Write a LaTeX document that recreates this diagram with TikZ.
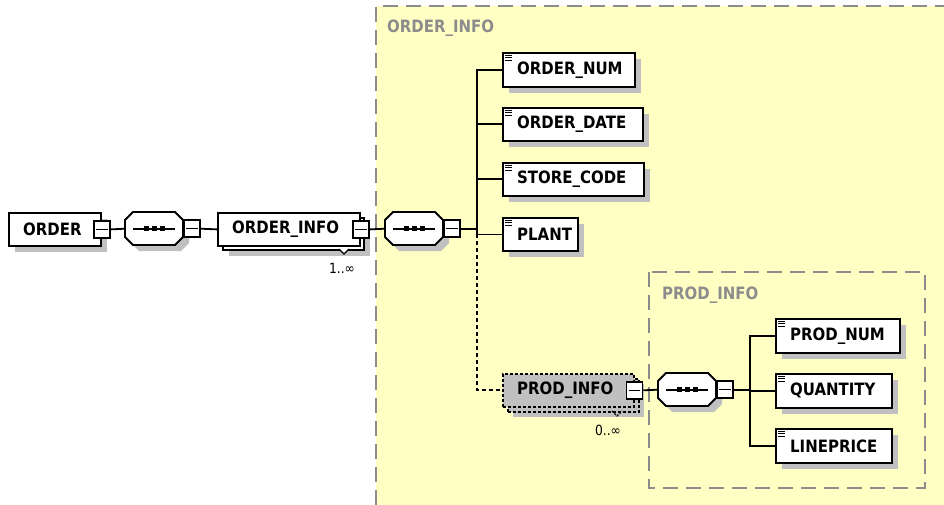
\documentclass[tikz,border=0pt]{standalone}
\usepackage{fontspec}
\setmainfont{DejaVu Sans}
\newfontfamily\lblfont[FakeStretch=0.88]{DejaVu Sans}
\usetikzlibrary{shadows}
\definecolor{bgyellow}{RGB}{255,255,196}
\definecolor{shgray}{RGB}{192,192,192}
\definecolor{dashgray}{RGB}{140,140,140}
\definecolor{elgray}{RGB}{192,192,192}
\newcommand\mkminus[1]{%
  \node[mbox] (#1-m) at (#1.east) {};
  \draw[line width=1.2pt] ([xshift=3pt]#1-m.west) -- ([xshift=-3pt]#1-m.east);}
\newcommand\mkleaf[6]{% name, x, y, w, h, text
  \node[elem, minimum width=#4pt, minimum height=#5pt] (#1) at (#2,#3) {};
  \node[etext] (#1-t) at ([xshift=15pt]#1.west) {#6};
  \foreach \dy in {3,5.5,8}{\draw[line width=0.9pt] ([xshift=3pt,yshift=-\dy pt]#1.north west) -- ++(7,0);}}
\newcommand\mkseq[3]{% name, x, y
  \begin{scope}[shift={(#2,#3)}]
    \fill[shgray] (14,6) -- (56,6) -- (64,14) -- (64,31) -- (56,39) -- (14,39) -- (6,31) -- (6,14) -- cycle;
    \filldraw[fill=white, line width=1.8pt] (8,0) -- (50,0) -- (58,8) -- (58,25) -- (50,33) -- (8,33) -- (0,25) -- (0,8) -- cycle;
  \end{scope}
  \node[inner sep=0pt, minimum width=58pt, minimum height=33pt, anchor=north west] (#1) at (#2,#3) {};
  \draw[line width=1.6pt] ([xshift=8pt]#1.west) -- ([xshift=-8pt]#1.east);
  \foreach \dx in {-8,0,8}{\fill ([xshift=\dx pt]#1.center) ++(-2.5,-2.5) rectangle ++(5,5);}
  \node[mbox, anchor=west] (#1-m) at (#1.east) {};
  \draw[line width=1.2pt] ([xshift=3pt]#1-m.west) -- ([xshift=-3pt]#1-m.east);}
\begin{document}
\begin{tikzpicture}[x=1pt,y=-1pt,
  elem/.style={draw=black, line width=1.8pt, fill=white, rectangle, inner sep=0pt, anchor=north west,
    general shadow={fill=shgray, shadow xshift=6pt, shadow yshift=-6pt}},
  elemplain/.style={draw=black, line width=1.8pt, fill=white, rectangle, inner sep=0pt, anchor=north west},
  pelem/.style={draw=black, line width=1.6pt, dash pattern=on 3pt off 2pt, fill=elgray, rectangle, inner sep=0pt, anchor=north west},
  etext/.style={font=\lblfont\bfseries\fontsize{17}{20}\selectfont, inner sep=0pt, anchor=west},
  mbox/.style={draw, fill=white, line width=1.6pt, minimum width=16pt, minimum height=17pt, inner sep=0pt, rectangle},
  conn/.style={line width=1.8pt},
  dotconn/.style={line width=1.8pt, dash pattern=on 4pt off 3pt},
  grouplabel/.style={font=\lblfont\bfseries\fontsize{17}{20}\selectfont, text=dashgray, anchor=west, inner sep=0pt},
  groupbox/.style={draw=dashgray, line width=1.6pt, dash pattern=on 15pt off 8pt},
  mult/.style={font=\lblfont\fontsize{14}{16}\selectfont, inner sep=0pt}]
\useasboundingbox (0,0) rectangle (944,505);
\fill[white] (0,0) rectangle (944,505);
% ORDER_INFO group area
\fill[bgyellow] (376,6) rectangle (944,505);
\draw[groupbox] (376,505) -- (376,6) -- (944,6);
\node[grouplabel] (g1lab) at (387,28) {ORDER\_INFO};
% PROD_INFO group area
\draw[groupbox] (649,272) rectangle (925,488);
\node[grouplabel] (g2lab) at (662,295) {PROD\_INFO};

% ORDER
\node[elem, minimum width=92pt, minimum height=33pt] (order) at (8,212) {};
\node[etext] (order-t) at ([xshift=15pt]order.west) {ORDER};
\mkminus{order}

% sequence 1
\mkseq{seqa}{125}{212}

% ORDER_INFO (repeated)
\node[elem, minimum width=141pt, minimum height=32pt] (oiback) at (222,217) {};
\node[elemplain, minimum width=142pt, minimum height=33pt] (oi) at (217,212) {};
\node[etext] (oi-t) at ([xshift=15pt]oi.west) {ORDER\_INFO};
\draw[line width=1.3pt, fill=white] (339,249) -- (344,254) -- (349,249);
\mkminus{oi}
\node[mult] (oimult) at (342,268) {1..∞};

% sequence 2
\mkseq{seqb}{385}{212}

% leaves of ORDER_INFO
\mkleaf{onum}{502}{52}{132}{34}{ORDER\_NUM}
\mkleaf{odate}{502}{107}{140}{33}{ORDER\_DATE}
\mkleaf{scode}{502}{162}{141}{33}{STORE\_CODE}
\mkleaf{plant}{502}{217}{75}{33}{PLANT}

% PROD_INFO element (optional, repeated)
\fill[shgray] (513,384) rectangle (644,417);
\node[pelem, minimum width=131pt, minimum height=33pt] (piback) at (507,378) {};
\node[pelem, minimum width=131pt, minimum height=33pt] (pi) at (502,373) {};
\node[etext] (pi-t) at ([xshift=15pt]pi.west) {PROD\_INFO};
\draw[line width=1.3pt, dash pattern=on 2pt off 1.5pt] (612,411) -- (617,416) -- (622,411);
\mkminus{pi}
\node[mult] (pimult) at (608,430) {0..∞};

% sequence 3
\mkseq{seqc}{658}{373}

% leaves of PROD_INFO
\mkleaf{pnum}{775}{318}{124}{34}{PROD\_NUM}
\mkleaf{qty}{775}{373}{116}{34}{QUANTITY}
\mkleaf{lprice}{775}{428}{116}{34}{LINEPRICE}

% connectors
\draw[conn] (order-m.east) -- (seqa.west);
\draw[conn] (seqa-m.east) -- (oi.west);
\draw[conn] (oi-m.east) -- (seqb.west);
\coordinate (tr1) at (477,0);
\draw[conn] (seqb-m.east) -- (seqb-m.east -| tr1);
\draw[conn] (onum.west) -- (onum.west -| tr1) -- (plant.west -| tr1) -- (plant.west);
\draw[conn] (odate.west) -- (odate.west -| tr1);
\draw[conn] (scode.west) -- (scode.west -| tr1);
\draw[dotconn] (plant.west -| tr1) |- (pi.west);
\draw[conn] (pi-m.east) -- (seqc.west);
\coordinate (tr2) at (750,0);
\draw[conn] (seqc-m.east) -- (seqc-m.east -| tr2);
\draw[conn] (pnum.west) -- (pnum.west -| tr2) -- (lprice.west -| tr2) -- (lprice.west);
\draw[conn] (qty.west) -- (qty.west -| tr2);
\end{tikzpicture}
\end{document}
